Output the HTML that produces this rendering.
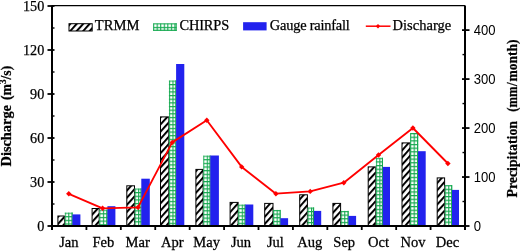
<!DOCTYPE html>
<html><head><meta charset="utf-8"><title>Chart</title>
<style>html,body{margin:0;padding:0;background:#fff}svg{display:block}
.t{will-change:opacity;mix-blend-mode:multiply}
text{font-family:"Liberation Serif",serif;fill:#000;stroke:#000;stroke-width:0.25px}
.sans{font-family:"Liberation Sans",sans-serif;stroke:none}
</style></head><body>
<svg width="520" height="251" viewBox="0 0 520 251">
<defs>
<pattern id="hatch" patternUnits="userSpaceOnUse" width="4.8" height="10" patternTransform="rotate(42)">
<rect x="0" y="0" width="4.8" height="10" fill="#fff"/><rect x="0" y="0" width="2.0" height="10" fill="#000"/>
</pattern>
<pattern id="grid" patternUnits="userSpaceOnUse" width="3.55" height="3.65" x="0" y="0">
<rect x="0" y="0" width="3.55" height="3.65" fill="#14a94f"/><rect x="1.1" y="1.2" width="2.45" height="2.45" fill="#fff"/>
</pattern>
</defs>
<rect width="520" height="251" fill="#fff"/>

<rect x="57.90" y="216.00" width="6.70" height="10.00" fill="url(#hatch)" stroke="#000" stroke-width="1"/>
<g transform="translate(64.70,212.50)"><rect x="0" y="0" width="7.90" height="13.50" fill="url(#grid)"/><rect x="6.80" y="0" width="1.1" height="13.50" fill="#14a94f"/></g>
<rect x="72.40" y="214.40" width="8.00" height="11.60" fill="#2222ee"/>
<rect x="92.10" y="208.50" width="7.10" height="17.50" fill="url(#hatch)" stroke="#000" stroke-width="1"/>
<g transform="translate(99.30,209.60)"><rect x="0" y="0" width="8.30" height="16.40" fill="url(#grid)"/><rect x="7.20" y="0" width="1.1" height="16.40" fill="#14a94f"/></g>
<rect x="107.40" y="206.20" width="8.00" height="19.80" fill="#2222ee"/>
<rect x="126.80" y="185.80" width="7.70" height="40.20" fill="url(#hatch)" stroke="#000" stroke-width="1"/>
<g transform="translate(134.60,188.40)"><rect x="0" y="0" width="6.90" height="37.60" fill="url(#grid)"/><rect x="5.80" y="0" width="1.1" height="37.60" fill="#14a94f"/></g>
<rect x="141.30" y="178.70" width="8.50" height="47.30" fill="#2222ee"/>
<rect x="160.50" y="116.90" width="8.30" height="109.10" fill="url(#hatch)" stroke="#000" stroke-width="1"/>
<g transform="translate(168.90,80.40)"><rect x="0" y="0" width="7.40" height="145.60" fill="url(#grid)"/><rect x="6.30" y="0" width="1.1" height="145.60" fill="#14a94f"/></g>
<rect x="176.10" y="64.00" width="8.20" height="162.00" fill="#2222ee"/>
<rect x="195.90" y="169.40" width="7.20" height="56.60" fill="url(#hatch)" stroke="#000" stroke-width="1"/>
<g transform="translate(203.20,155.50)"><rect x="0" y="0" width="7.30" height="70.50" fill="url(#grid)"/><rect x="6.20" y="0" width="1.1" height="70.50" fill="#14a94f"/></g>
<rect x="210.30" y="155.50" width="8.60" height="70.50" fill="#2222ee"/>
<rect x="230.10" y="202.40" width="8.00" height="23.60" fill="url(#hatch)" stroke="#000" stroke-width="1"/>
<g transform="translate(238.20,204.50)"><rect x="0" y="0" width="7.30" height="21.50" fill="url(#grid)"/><rect x="6.20" y="0" width="1.1" height="21.50" fill="#14a94f"/></g>
<rect x="245.30" y="204.50" width="8.00" height="21.50" fill="#2222ee"/>
<rect x="264.70" y="203.40" width="8.30" height="22.60" fill="url(#hatch)" stroke="#000" stroke-width="1"/>
<g transform="translate(273.10,209.90)"><rect x="0" y="0" width="7.50" height="16.10" fill="url(#grid)"/><rect x="6.40" y="0" width="1.1" height="16.10" fill="#14a94f"/></g>
<rect x="280.40" y="218.20" width="7.70" height="7.80" fill="#2222ee"/>
<rect x="299.70" y="194.80" width="7.70" height="31.20" fill="url(#hatch)" stroke="#000" stroke-width="1"/>
<g transform="translate(307.50,207.40)"><rect x="0" y="0" width="6.60" height="18.60" fill="url(#grid)"/><rect x="5.50" y="0" width="1.1" height="18.60" fill="#14a94f"/></g>
<rect x="313.90" y="210.90" width="7.30" height="15.10" fill="#2222ee"/>
<rect x="332.90" y="203.40" width="7.70" height="22.60" fill="url(#hatch)" stroke="#000" stroke-width="1"/>
<g transform="translate(340.70,210.90)"><rect x="0" y="0" width="7.90" height="15.10" fill="url(#grid)"/><rect x="6.80" y="0" width="1.1" height="15.10" fill="#14a94f"/></g>
<rect x="348.40" y="215.90" width="7.70" height="10.10" fill="#2222ee"/>
<rect x="368.20" y="166.90" width="7.50" height="59.10" fill="url(#hatch)" stroke="#000" stroke-width="1"/>
<g transform="translate(375.80,157.70)"><rect x="0" y="0" width="7.20" height="68.30" fill="url(#grid)"/><rect x="6.10" y="0" width="1.1" height="68.30" fill="#14a94f"/></g>
<rect x="382.80" y="166.90" width="7.20" height="59.10" fill="#2222ee"/>
<rect x="402.00" y="142.90" width="8.00" height="83.10" fill="url(#hatch)" stroke="#000" stroke-width="1"/>
<g transform="translate(410.10,133.00)"><rect x="0" y="0" width="8.10" height="93.00" fill="url(#grid)"/><rect x="7.00" y="0" width="1.1" height="93.00" fill="#14a94f"/></g>
<rect x="418.00" y="151.20" width="7.70" height="74.80" fill="#2222ee"/>
<rect x="437.20" y="177.90" width="7.40" height="48.10" fill="url(#hatch)" stroke="#000" stroke-width="1"/>
<g transform="translate(444.70,185.10)"><rect x="0" y="0" width="7.50" height="40.90" fill="url(#grid)"/><rect x="6.40" y="0" width="1.1" height="40.90" fill="#14a94f"/></g>
<rect x="452.00" y="189.90" width="7.00" height="36.10" fill="#2222ee"/>
<polyline points="68.8,193.8 102.6,208.3 138.0,207.4 172.2,142.4 206.8,120.2 241.7,166.9 275.9,193.7 310.2,191.4 343.8,182.7 378.5,155.0 412.9,128.0 447.9,163.5" fill="none" stroke="#ff0000" stroke-width="1.85" stroke-linejoin="round"/>
<path d="M66.1 193.8L68.8 191.1L71.5 193.8L68.8 196.5Z" fill="#ff0000"/>
<path d="M99.9 208.3L102.6 205.6L105.3 208.3L102.6 211.0Z" fill="#ff0000"/>
<path d="M135.3 207.4L138.0 204.7L140.7 207.4L138.0 210.1Z" fill="#ff0000"/>
<path d="M169.5 142.4L172.2 139.7L174.9 142.4L172.2 145.1Z" fill="#ff0000"/>
<path d="M204.1 120.2L206.8 117.5L209.5 120.2L206.8 122.9Z" fill="#ff0000"/>
<path d="M239.0 166.9L241.7 164.2L244.4 166.9L241.7 169.6Z" fill="#ff0000"/>
<path d="M273.2 193.7L275.9 191.0L278.6 193.7L275.9 196.4Z" fill="#ff0000"/>
<path d="M307.5 191.4L310.2 188.7L312.9 191.4L310.2 194.1Z" fill="#ff0000"/>
<path d="M341.1 182.7L343.8 180.0L346.5 182.7L343.8 185.4Z" fill="#ff0000"/>
<path d="M375.8 155.0L378.5 152.3L381.2 155.0L378.5 157.7Z" fill="#ff0000"/>
<path d="M410.2 128.0L412.9 125.3L415.6 128.0L412.9 130.7Z" fill="#ff0000"/>
<path d="M445.2 163.5L447.9 160.8L450.6 163.5L447.9 166.2Z" fill="#ff0000"/>
<line x1="52.0" y1="5.7" x2="465.0" y2="5.7" stroke="#000" stroke-width="1.3"/>
<line x1="52.0" y1="5.5" x2="52.0" y2="227.0" stroke="#000" stroke-width="2"/>
<line x1="465.0" y1="5.5" x2="465.0" y2="227.0" stroke="#000" stroke-width="2"/>
<line x1="51.0" y1="226.0" x2="466.0" y2="226.0" stroke="#000" stroke-width="2"/>
<line x1="86.42" y1="226.0" x2="86.42" y2="230.0" stroke="#000" stroke-width="1.8"/>
<line x1="120.83" y1="226.0" x2="120.83" y2="230.0" stroke="#000" stroke-width="1.8"/>
<line x1="155.25" y1="226.0" x2="155.25" y2="230.0" stroke="#000" stroke-width="1.8"/>
<line x1="189.67" y1="226.0" x2="189.67" y2="230.0" stroke="#000" stroke-width="1.8"/>
<line x1="224.08" y1="226.0" x2="224.08" y2="230.0" stroke="#000" stroke-width="1.8"/>
<line x1="258.50" y1="226.0" x2="258.50" y2="230.0" stroke="#000" stroke-width="1.8"/>
<line x1="292.92" y1="226.0" x2="292.92" y2="230.0" stroke="#000" stroke-width="1.8"/>
<line x1="327.33" y1="226.0" x2="327.33" y2="230.0" stroke="#000" stroke-width="1.8"/>
<line x1="361.75" y1="226.0" x2="361.75" y2="230.0" stroke="#000" stroke-width="1.8"/>
<line x1="396.17" y1="226.0" x2="396.17" y2="230.0" stroke="#000" stroke-width="1.8"/>
<line x1="430.58" y1="226.0" x2="430.58" y2="230.0" stroke="#000" stroke-width="1.8"/>
<line x1="52.0" y1="226.0" x2="52.0" y2="230.0" stroke="#000" stroke-width="2"/>
<line x1="465.0" y1="226.0" x2="465.0" y2="230.0" stroke="#000" stroke-width="2"/>
<line x1="47.5" y1="226.0" x2="54.5" y2="226.0" stroke="#000" stroke-width="1.8"/>
<line x1="52.0" y1="204.0" x2="54.5" y2="204.0" stroke="#000" stroke-width="1.4"/>
<line x1="47.5" y1="182.0" x2="54.5" y2="182.0" stroke="#000" stroke-width="1.8"/>
<line x1="52.0" y1="160.0" x2="54.5" y2="160.0" stroke="#000" stroke-width="1.4"/>
<line x1="47.5" y1="138.0" x2="54.5" y2="138.0" stroke="#000" stroke-width="1.8"/>
<line x1="52.0" y1="116.0" x2="54.5" y2="116.0" stroke="#000" stroke-width="1.4"/>
<line x1="47.5" y1="94.0" x2="54.5" y2="94.0" stroke="#000" stroke-width="1.8"/>
<line x1="52.0" y1="72.0" x2="54.5" y2="72.0" stroke="#000" stroke-width="1.4"/>
<line x1="47.5" y1="50.0" x2="54.5" y2="50.0" stroke="#000" stroke-width="1.8"/>
<line x1="52.0" y1="28.0" x2="54.5" y2="28.0" stroke="#000" stroke-width="1.4"/>
<line x1="47.5" y1="6.0" x2="54.5" y2="6.0" stroke="#000" stroke-width="1.8"/>
<line x1="462.0" y1="226.00" x2="469.5" y2="226.00" stroke="#000" stroke-width="1.8"/>
<line x1="462.5" y1="201.51" x2="465.0" y2="201.51" stroke="#000" stroke-width="1.4"/>
<line x1="462.0" y1="177.03" x2="469.5" y2="177.03" stroke="#000" stroke-width="1.8"/>
<line x1="462.5" y1="152.54" x2="465.0" y2="152.54" stroke="#000" stroke-width="1.4"/>
<line x1="462.0" y1="128.05" x2="469.5" y2="128.05" stroke="#000" stroke-width="1.8"/>
<line x1="462.5" y1="103.56" x2="465.0" y2="103.56" stroke="#000" stroke-width="1.4"/>
<line x1="462.0" y1="79.07" x2="469.5" y2="79.07" stroke="#000" stroke-width="1.8"/>
<line x1="462.5" y1="54.59" x2="465.0" y2="54.59" stroke="#000" stroke-width="1.4"/>
<line x1="462.0" y1="30.10" x2="469.5" y2="30.10" stroke="#000" stroke-width="1.8"/>
<g class="t">
<text x="44.3" y="231.0" font-size="14.2" text-anchor="end">0</text>
<text x="44.3" y="187.0" font-size="14.2" text-anchor="end">30</text>
<text x="44.3" y="143.0" font-size="14.2" text-anchor="end">60</text>
<text x="44.3" y="99.0" font-size="14.2" text-anchor="end">90</text>
<text x="44.3" y="55.0" font-size="14.2" text-anchor="end">120</text>
<text x="44.3" y="11.0" font-size="14.2" text-anchor="end">150</text>
<text class="sans" x="473.7" y="230.8" font-size="14.4" textLength="7.3" lengthAdjust="spacingAndGlyphs">0</text>
<text class="sans" x="473.7" y="181.8" font-size="14.4" textLength="21.8" lengthAdjust="spacingAndGlyphs">100</text>
<text class="sans" x="473.7" y="132.9" font-size="14.4" textLength="21.8" lengthAdjust="spacingAndGlyphs">200</text>
<text class="sans" x="473.7" y="83.9" font-size="14.4" textLength="21.8" lengthAdjust="spacingAndGlyphs">300</text>
<text class="sans" x="473.7" y="34.9" font-size="14.4" textLength="21.8" lengthAdjust="spacingAndGlyphs">400</text>
<text transform="translate(68.9,246.9) scale(1.04,1)" font-size="14" text-anchor="middle">Jan</text>
<text transform="translate(103.3,246.9) scale(1.04,1)" font-size="14" text-anchor="middle">Feb</text>
<text transform="translate(137.7,246.9) scale(1.04,1)" font-size="14" text-anchor="middle">Mar</text>
<text transform="translate(172.2,246.9) scale(1.04,1)" font-size="14" text-anchor="middle">Apr</text>
<text transform="translate(206.6,246.9) scale(1.04,1)" font-size="14" text-anchor="middle">May</text>
<text transform="translate(241.0,246.9) scale(1.04,1)" font-size="14" text-anchor="middle">Jun</text>
<text transform="translate(275.4,246.9) scale(1.04,1)" font-size="14" text-anchor="middle">Jul</text>
<text transform="translate(309.8,246.9) scale(1.04,1)" font-size="14" text-anchor="middle">Aug</text>
<text transform="translate(344.2,246.9) scale(1.04,1)" font-size="14" text-anchor="middle">Sep</text>
<text transform="translate(378.6,246.9) scale(1.04,1)" font-size="14" text-anchor="middle">Oct</text>
<text transform="translate(413.1,246.9) scale(1.04,1)" font-size="14" text-anchor="middle">Nov</text>
<text transform="translate(447.5,246.9) scale(1.04,1)" font-size="14" text-anchor="middle">Dec</text>
<rect x="69" y="23.7" width="23.2" height="7.3" fill="url(#hatch)" stroke="#000" stroke-width="1"/>
<text x="94.8" y="30.4" font-size="14.6" textLength="44.6" lengthAdjust="spacing">TRMM</text>
<g transform="translate(153.1,23.2)"><rect x="0" y="0" width="23.6" height="7.6" fill="url(#grid)"/><rect x="22.5" y="0" width="1.1" height="7.6" fill="#14a94f"/><rect x="0" y="6.5" width="23.6" height="1.1" fill="#14a94f"/></g>
<text x="179.4" y="30.4" font-size="14.4" textLength="49.8" lengthAdjust="spacing">CHIRPS</text>
<rect x="243.1" y="22.2" width="23.5" height="8.2" fill="#2222ee"/>
<text x="269.8" y="30.4" font-size="14.4" textLength="80" lengthAdjust="spacing">Gauge rainfall</text>
<line x1="365.8" y1="26.2" x2="390.5" y2="26.2" stroke="#ff0000" stroke-width="1.5"/>
<path d="M375.8 26.2L378 24L380.2 26.2L378 28.4Z" fill="#ff0000"/>
<text x="392.5" y="30.4" font-size="14.5" textLength="58.8" lengthAdjust="spacing">Discharge</text>
<text transform="translate(10.8,166.5) rotate(-90)" font-size="14.2" font-weight="bold" textLength="61.5" lengthAdjust="spacingAndGlyphs">Discharge</text>
<text transform="translate(10.8,100.0) rotate(-90)" font-size="14.2" font-weight="bold" textLength="34.2" lengthAdjust="spacingAndGlyphs">(m<tspan font-size="9.5" dy="-4.5">3</tspan><tspan dy="4.5">/s)</tspan></text>
<text transform="translate(516.6,197.5) rotate(-90)" font-size="14.4" font-weight="bold" textLength="76.5" lengthAdjust="spacingAndGlyphs">Precipitation</text>
<text transform="translate(516.6,111.8) rotate(-90)" font-size="14.4" font-weight="bold"><tspan textLength="25.3" lengthAdjust="spacingAndGlyphs">(mm</tspan><tspan x="25.8" textLength="3.7" lengthAdjust="spacingAndGlyphs">/</tspan><tspan x="30.2" textLength="42.1" lengthAdjust="spacingAndGlyphs">month)</tspan></text>
</g>
</svg></body></html>
